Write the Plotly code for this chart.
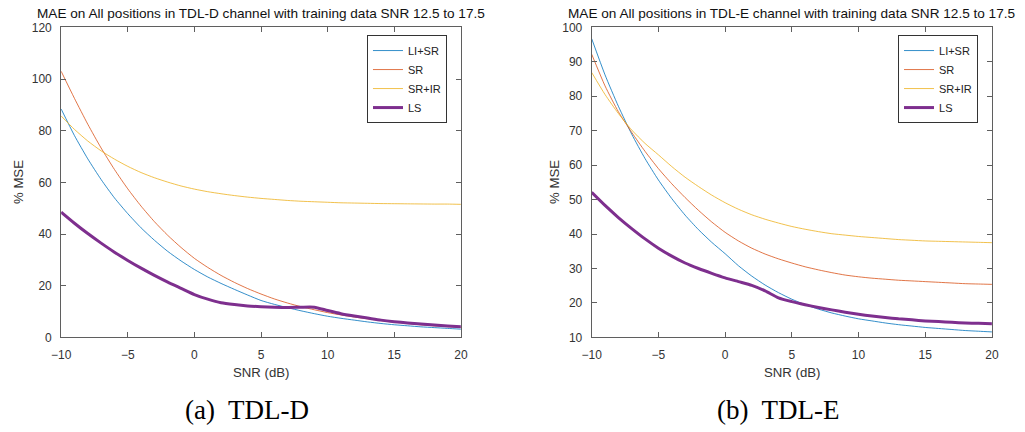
import plotly.graph_objects as go

snr = list(range(-10, 21))

# TDL-D (left)
d_lisr = [88.4, 78.1, 69.1, 61.1, 54.0, 47.9, 42.4, 37.6, 33.3, 29.6, 26.3,
          23.4, 20.9, 18.6, 16.4, 14.3, 12.8, 11.5, 10.3, 9.2, 8.2,
          7.4, 6.7, 6.0, 5.4, 4.9, 4.5, 4.1, 3.8, 3.5, 3.2]
d_sr = [103.0, 92.5, 82.5, 73.3, 65.0, 57.5, 50.8, 44.8, 39.5, 34.8, 30.6,
        27.1, 24.0, 21.3, 18.9, 16.8, 14.9, 13.3, 11.9, 10.7, 9.6,
        8.7, 7.9, 7.2, 6.5, 5.9, 5.4, 4.9, 4.5, 4.2, 3.9]
d_srir = [85.7, 80.5, 76.0, 72.2, 69.0, 66.2, 63.8, 61.8, 60.1, 58.6, 57.4,
          56.4, 55.6, 54.9, 54.3, 53.8, 53.4, 53.0, 52.7, 52.5, 52.3,
          52.1, 52.0, 51.9, 51.8, 51.75, 51.7, 51.65, 51.6, 51.6, 51.5]
d_ls = [48.5, 44.2, 40.2, 36.5, 33.0, 29.8, 26.8, 24.0, 21.4, 19.0, 16.6,
        14.8, 13.4, 12.7, 12.2, 11.9, 11.7, 11.6, 11.7, 11.7, 10.4,
        9.2, 8.3, 7.5, 6.7, 6.1, 5.6, 5.2, 4.8, 4.4, 4.1]

# TDL-E (right)
e_lisr = [96.7, 86.2, 77.1, 69.0, 61.9, 55.7, 50.3, 45.5, 41.3, 37.6, 34.3,
          30.8, 27.8, 25.2, 23.0, 21.1, 19.5, 18.2, 17.1, 16.2, 15.4,
          14.8, 14.2, 13.7, 13.3, 12.9, 12.6, 12.3, 12.0, 11.8, 11.6]
e_sr = [92.2, 83.0, 75.5, 69.5, 64.0, 59.0, 54.6, 50.6, 46.9, 43.5, 40.5,
        38.0, 35.9, 34.2, 32.8, 31.6, 30.5, 29.6, 28.8, 28.1, 27.6,
        27.2, 26.9, 26.6, 26.4, 26.2, 26.0, 25.8, 25.6, 25.5, 25.4]
e_srir = [86.9, 80.5, 75.0, 70.2, 66.3, 63.0, 59.6, 56.5, 53.8, 51.3, 49.1,
          47.2, 45.6, 44.3, 43.2, 42.2, 41.4, 40.7, 40.1, 39.7, 39.3,
          39.0, 38.7, 38.4, 38.2, 38.0, 37.9, 37.8, 37.7, 37.6, 37.5]
e_ls = [52.1, 48.3, 44.8, 41.6, 38.6, 35.9, 33.6, 31.6, 30.0, 28.6, 27.3,
        26.2, 25.1, 23.5, 21.5, 20.4, 19.5, 18.7, 18.0, 17.3, 16.7,
        16.2, 15.8, 15.4, 15.1, 14.8, 14.6, 14.4, 14.2, 14.1, 14.0]

names = ["LI+SR", "SR", "SR+IR", "LS"]
colors = ["#0072BD", "#D95319", "#EDB120", "#7E2F8E"]
widths = [0.8, 0.8, 0.8, 3]

titles = ["MAE on All positions in TDL-D channel with training data SNR 12.5 to 17.5",
          "MAE on All positions in TDL-E channel with training data SNR 12.5 to 17.5"]
captions = ["(a)  TDL-D", "(b)  TDL-E"]

W, H = 1025, 432
xdom = [[52 / W, 458.5 / W], [591.5 / W, 998.5 / W]]
ydom = [1 - 341.5 / H, 1 - 21 / H]

fig = go.Figure()
sets = [[d_lisr, d_sr, d_srir, d_ls], [e_lisr, e_sr, e_srir, e_ls]]
for p, series in enumerate(sets):
    for i, ys in enumerate(series):
        fig.add_trace(go.Scatter(
            x=snr, y=ys, mode="lines", name=names[i],
            line=dict(color=colors[i], width=widths[i], shape="spline", smoothing=0.6),
            xaxis="x" if p == 0 else "x2", yaxis="y" if p == 0 else "y2",
            legend="legend" if p == 0 else "legend2"))

axcol = "#5f5f5f"
txtcol = "#333333"
axis_common = dict(showline=True, linecolor=axcol, linewidth=1, mirror="ticks",
                   ticks="inside", ticklen=5, tickcolor=axcol, showgrid=False,
                   zeroline=False, tickfont=dict(family="Liberation Sans, Arial", size=12, color=txtcol))

fig.update_layout(
    width=W, height=H, margin=dict(l=0, r=0, t=0, b=0),
    paper_bgcolor="white", plot_bgcolor="white",
    font=dict(family="Liberation Sans, Arial", color=txtcol),
    xaxis=dict(domain=xdom[0], range=[-10, 20], tickvals=[-10, -5, 0, 5, 10, 15, 20],
               anchor="y", ticklabelstandoff=6, **axis_common),
    yaxis=dict(domain=ydom, range=[0, 120], tickvals=[0, 20, 40, 60, 80, 100, 120],
               anchor="x", ticklabelstandoff=6, **axis_common),
    xaxis2=dict(domain=xdom[1], range=[-10, 20], tickvals=[-10, -5, 0, 5, 10, 15, 20],
                anchor="y2", ticklabelstandoff=6, **axis_common),
    yaxis2=dict(domain=ydom, range=[10, 100], tickvals=list(range(10, 101, 10)),
                anchor="x2", ticklabelstandoff=6, **axis_common),
    legend=dict(x=363 / W, y=1 - 29 / H, xanchor="left", yanchor="top",
                bgcolor="white", bordercolor="#333333", borderwidth=1,
                font=dict(family="Liberation Sans, Arial", size=11, color="#222222")),
    legend2=dict(x=903 / W, y=1 - 29 / H, xanchor="left", yanchor="top",
                 bgcolor="white", bordercolor="#333333", borderwidth=1,
                 font=dict(family="Liberation Sans, Arial", size=11, color="#222222")),
)

annotations = []
centers = [(xdom[0][0] + xdom[0][1]) / 2, (xdom[1][0] + xdom[1][1]) / 2]
ylab_x = [8 / W, 553 / W]
for p in range(2):
    annotations.append(dict(text=titles[p], x=centers[p], y=1 - 7 / H, xref="paper", yref="paper",
                            showarrow=False, xanchor="center", yanchor="middle",
                            font=dict(family="Liberation Sans, Arial", size=13.6, color="#111111")))
    annotations.append(dict(text="SNR (dB)", x=centers[p], y=1 - 378 / H, xref="paper", yref="paper",
                            showarrow=False, xanchor="center", yanchor="middle",
                            font=dict(family="Liberation Sans, Arial", size=13.2, color=txtcol)))
    annotations.append(dict(text="% MSE", x=ylab_x[p], y=1 - 181 / H, xref="paper", yref="paper",
                            showarrow=False, xanchor="center", yanchor="middle", textangle=-90,
                            font=dict(family="Liberation Sans, Arial", size=13.2, color=txtcol)))
    annotations.append(dict(text=captions[p], x=centers[p] - 14 / W, y=1 - 416 / H, xref="paper", yref="paper",
                            showarrow=False, xanchor="center", yanchor="middle",
                            font=dict(family="Liberation Serif, Times New Roman", size=27, color="#000000")))
fig.update_layout(annotations=annotations)

fig.write_html("out.html")
